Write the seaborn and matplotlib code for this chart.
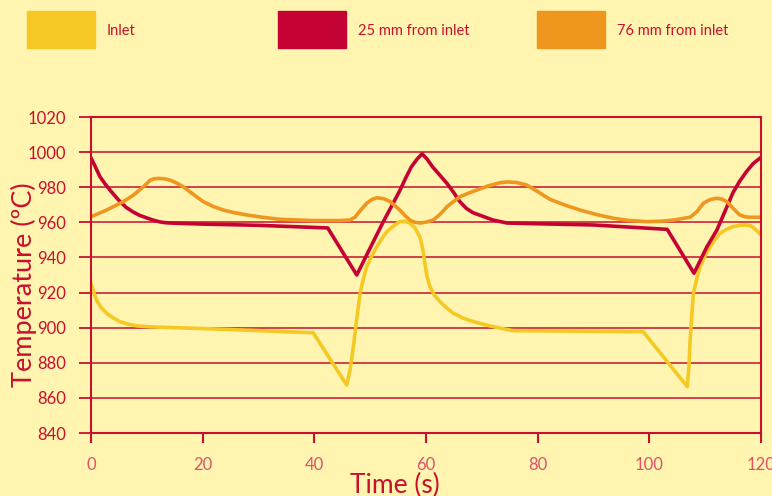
import pandas as pd
import matplotlib.pyplot as plt
import seaborn as sns
from matplotlib.patches import Rectangle

# Data (time in s, temperature in degC)
inlet_t = [0, 0.5, 1, 1.8, 2.8, 4, 5.2, 6.6, 8.2, 10.5, 13, 21.9, 39.8, 45.8, 46.4, 47,
           47.6, 48.2, 48.8, 49.4, 50.3, 51.2, 52.1, 53, 54.2, 55.3, 56.2, 57.1, 58,
           58.9, 59.4, 59.8, 60.2, 60.7, 61.5, 62.5, 63.7, 64.9, 66.6, 68.5, 70.8, 73.3,
           75.6, 98.9, 106.8, 107.1, 107.3, 107.6, 107.9, 108.5, 109.1, 110, 110.9,
           111.8, 112.7, 113.8, 115, 116.2, 117.4, 118.2, 118.8, 119.4, 120]
inlet_T = [925.3, 920, 915.8, 911.5, 908.2, 905.5, 903.4, 902, 901, 900.5, 900.2, 899.3,
           897.1, 867.3, 876, 889.3, 905, 919.6, 928, 934.8, 941, 946.1, 950.8, 954.7,
           958, 960.4, 960.6, 959.5, 957, 951.8, 945, 936.7, 929, 923.4, 918.5, 914.9,
           911.2, 908.2, 905.5, 903.4, 901.5, 899.7, 898.3, 897.7, 866.4, 878, 893, 907,
           919.6, 928, 934.8, 941, 946.1, 950.5, 953.8, 956, 957.6, 958.3, 958.5, 958,
           956.5, 954.8, 952.8]

mm25_t = [0, 0.5, 1.6, 2.5, 3.4, 4.3, 5.2, 6.3, 7.5, 8.7, 10, 11.2, 12.4, 13.3, 14.2, 20,
          30, 42.4, 47.6, 50, 52.3, 55.3, 56.4, 57.4, 58.4, 59.3, 60.2, 61.2, 62.5, 63.8,
          65, 66, 67.2, 68.4, 69.7, 72, 74.5, 80, 90, 103.2, 108, 110.3, 112.1, 113.9,
          115, 116.2, 117.4, 118.6, 120]
mm25_T = [996.7, 993.5, 986, 982, 978.4, 975, 971.8, 968.5, 966, 964, 962.5, 961.2,
          960.2, 959.8, 959.6, 959, 958.3, 956.8, 930, 945.4, 960, 978, 985.5, 991.7,
          996, 999, 996, 991.5, 986.8, 982, 976.8, 972, 968, 965.5, 964, 961.3, 959.6,
          959.2, 958.5, 956, 931, 946, 955.6, 968.9, 977, 983.5, 988.9, 993.5, 997]

mm76_t = [0, 2.8, 5.8, 7.6, 9.4, 10.6, 11.3, 12.1, 13.2, 14.2, 15.4, 16.5, 18.3, 20.1,
          21.9, 23.7, 25.8, 27.9, 30.9, 33.9, 39.8, 44.6, 46.4, 47.3, 48.3, 49.4, 50.3,
          51.2, 52.4, 53.6, 55.3, 56.2, 57.1, 58, 59, 60.1, 61.3, 62.5, 63.8, 65, 66.1,
          67.6, 69.1, 71.2, 73.3, 74.5, 76.2, 78, 80, 82.2, 84.9, 87.6, 90.6, 93.6, 96.5,
          99.5, 102, 104.3, 107.3, 108.5, 109.7, 110.9, 112.1, 113, 113.9, 115, 116.2,
          117.1, 118, 120]
mm76_T = [963.2, 967, 971.8, 975.5, 980.3, 984, 984.8, 985, 984.8, 984, 982.3, 980.3,
          976, 971.8, 969, 967, 965.4, 964.2, 962.8, 961.7, 961, 961, 961.3, 963, 967,
          970.9, 973, 974, 973.5, 971.8, 967, 964, 961.3, 960, 959.6, 960.2, 961.3,
          964.5, 969, 972, 974.6, 976.6, 978.4, 980.8, 982.6, 983, 982.7, 981.3, 977.5,
          973.1, 969.8, 967, 964.4, 962.3, 961, 960.4, 960.6, 961.3, 962.9, 966, 970.9,
          973, 973.7, 973.2, 971.8, 968, 964.2, 963.2, 962.9, 962.9]

series = ['Inlet', '25 mm from inlet', '76 mm from inlet']
colors = ['#F5C824', '#C40233', '#EE961E']

df = pd.concat([
    pd.DataFrame({'Time': inlet_t, 'Temp': inlet_T, 'Series': series[0]}),
    pd.DataFrame({'Time': mm25_t, 'Temp': mm25_T, 'Series': series[1]}),
    pd.DataFrame({'Time': mm76_t, 'Temp': mm76_T, 'Series': series[2]}),
])

bg = '#FFF5B0'
red = '#C8102E'
sns.set_theme(style='white')
plt.rcParams['font.family'] = ['Lato', 'DejaVu Sans']

fig = plt.figure(figsize=(7.72, 4.96), dpi=100, facecolor=bg)
ax = fig.add_axes([91 / 772, 1 - 433 / 496, 670 / 772, 316 / 496])
ax.set_facecolor(bg)

sns.lineplot(data=df, x='Time', y='Temp', hue='Series', hue_order=series,
             palette=colors, linewidth=2.6, legend=False, ax=ax,
             estimator=None, sort=False)

ax.set_xlim(0, 120)
ax.set_ylim(840, 1020)
ax.set_xticks(range(0, 121, 20))
ax.set_yticks(range(840, 1021, 20))
ax.yaxis.grid(True, color=red, linewidth=1.3, alpha=0.85)
ax.set_axisbelow(True)
for s in ax.spines.values():
    s.set_color(red)
    s.set_linewidth(1.5)
ax.tick_params(axis='y', colors=red, length=9, width=1.3, labelsize=12, pad=9)
ax.tick_params(axis='x', colors=red, length=7, width=1.5, labelsize=12, pad=10,
               labelcolor='#E0506A')
ax.tick_params(left=True, bottom=True)
ax.set_xlabel('Time (s)', color=red, fontsize=19)
ax.xaxis.set_label_coords((395 - 91) / 670, -0.125)
ax.set_ylabel('Temperature (ºC)', color=red, fontsize=19.5)
ax.yaxis.set_label_coords(-0.081, 0.47)

# legend row at top of figure
legend_x = [27, 278, 537]
for x0, c, lab in zip(legend_x, colors, series):
    fig.patches.append(Rectangle((x0 / 772, 1 - 48 / 496), 68 / 772, 37 / 496,
                                 transform=fig.transFigure, color=c, zorder=1))
    fig.text((x0 + 80) / 772, 1 - 31 / 496, lab, color=red, fontsize=10.5,
             va='center', ha='left')

fig.savefig('out.png', dpi=100, facecolor=bg)
